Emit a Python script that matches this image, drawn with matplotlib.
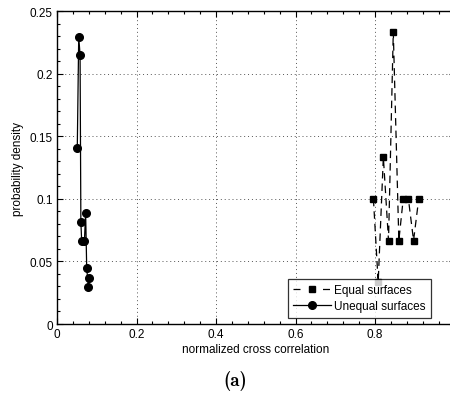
import matplotlib
matplotlib.use("Agg")
import matplotlib.pyplot as plt
from matplotlib.lines import Line2D
from matplotlib.ticker import MultipleLocator, FixedLocator

plt.rcParams['font.family'] = ['Liberation Sans', 'DejaVu Sans']

# Equal surfaces: histogram density of normalized cross correlation
equal_x = [0.796, 0.808, 0.821, 0.834, 0.846, 0.860, 0.871, 0.884, 0.897, 0.910]
equal_y = [3/30, 1/30, 4/30, 2/30, 7/30, 2/30, 3/30, 3/30, 2/30, 3/30]

# Unequal surfaces
unequal_x = [0.051, 0.0546, 0.058, 0.060, 0.062, 0.069, 0.072, 0.0747, 0.079, 0.081]
unequal_y = [19/135, 31/135, 29/135, 11/135, 9/135, 9/135, 12/135, 6/135, 4/135, 5/135]

x_ticks = [0, 0.2, 0.4, 0.6, 0.8]
x_ticklabels = ['0', '0.2', '0.4', '0.6', '0.8']
y_ticks = [0, 0.05, 0.1, 0.15, 0.2, 0.25]
y_ticklabels = ['0', '0.05', '0.1', '0.15', '0.2', '0.25']

fig = plt.figure(figsize=(4.5, 4.02), dpi=100)
ax = fig.add_axes([0.1267, 0.1915, 0.8833, 0.7786])

ax.plot(equal_x, equal_y, color='black', linestyle=(0, (6, 4)), linewidth=0.9,
        marker='s', markersize=5)
ax.plot(unequal_x, unequal_y, color='black', linestyle='-', linewidth=0.9,
        marker='o', markersize=5.5)

ax.set_xlim(0, 1.0)
ax.set_ylim(0, 0.25)
ax.xaxis.set_major_locator(FixedLocator(x_ticks))
ax.set_xticklabels(x_ticklabels)
ax.yaxis.set_major_locator(FixedLocator(y_ticks))
ax.set_yticklabels(y_ticklabels)
ax.xaxis.set_minor_locator(MultipleLocator(0.04))
ax.yaxis.set_minor_locator(MultipleLocator(0.01))

ax.tick_params(which='both', direction='in', top=True, right=True,
               labelsize=8.5, pad=3, width=0.8)
ax.tick_params(which='major', length=4)
ax.tick_params(which='minor', length=2)

ax.grid(True, which='major', linestyle=(0, (1, 3)), color='#555555', linewidth=0.7)
for s in ax.spines.values():
    s.set_linewidth(1.0)

ax.set_xlabel('normalized cross correlation', fontsize=8.5, labelpad=2)
ax.set_ylabel('probability density', fontsize=8.5, labelpad=4)

# legend keys: short dashes either side of the marker
handles = [
    Line2D([], [], color='black', linewidth=0.9, linestyle=(0, (5.6, 18.0)),
           marker='s', markersize=5),
    Line2D([], [], color='black', linewidth=0.9, linestyle='-',
           marker='o', markersize=5.5),
]
labels = ['Equal surfaces', 'Unequal surfaces']
leg = ax.legend(handles, labels, loc='lower right', bbox_to_anchor=(0.941, 0.02),
                fontsize=8.5, frameon=True, fancybox=False, edgecolor='black',
                handlelength=3.2, handletextpad=0.3, borderpad=0.45,
                labelspacing=0.35, borderaxespad=0)
leg.get_frame().set_linewidth(0.9)
leg.set_zorder(10)

fig.text(0.522, 0.052, '(a)', family='cmb10', fontsize=13.5,
         ha='center', va='center')

fig.savefig('out.png', dpi=100)
